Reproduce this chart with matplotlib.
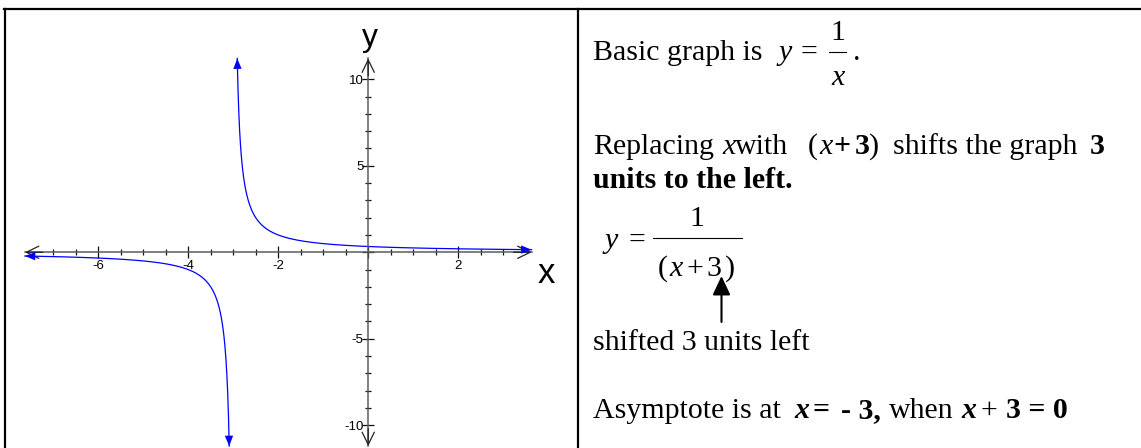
import numpy as np
import matplotlib
matplotlib.use("Agg")
import matplotlib.pyplot as plt
from matplotlib.lines import Line2D
from matplotlib.patches import FancyArrowPatch

plt.rcParams['axes.unicode_minus'] = False

# y = 1 / (x + shift), the shifted reciprocal graph
shift = 3
x_ends = [-7.63, 3.63]          # where the x axis (and the curve) stop
y_ends = [-11.2, 11.2]          # where the y axis (and the curve) stop
x_major = [-6, -4, -2, 0, 2]
x_major_labels = ['-6', '-4', '-2', '', '2']
y_major = [-10, -5, 0, 5, 10]
y_major_labels = ['-10', '-5', '', '5', '10']
x_minor = np.arange(-7, 3.01, 0.5)
y_minor = np.arange(-10, 10.01, 1)

W, H = 1141, 448
fig = plt.figure(figsize=(W / 100, H / 100), dpi=100)


def fx(px):
    return px / W


def fy(py):
    return 1 - py / H


# table lines
for x0, y0, x1, y1 in [(4, 9, W, 9), (5, 9, 5, H), (578, 9, 578, H)]:
    fig.add_artist(Line2D([fx(x0), fx(x1)], [fy(y0), fy(y1)], color='black', lw=1.6))

# ---- graph cell ----
ax = fig.add_axes([fx(6), 0, fx(577) - fx(6), fy(10)])
ax.set_xlim(-8.05, 4.64)
ax.set_ylim(-11.31, 14.0)
ax.patch.set_alpha(0)

axis_gray = '#5c5c5c'
for s in ['top', 'right']:
    ax.spines[s].set_visible(False)
ax.spines['left'].set_position('zero')
ax.spines['bottom'].set_position('zero')
ax.spines['bottom'].set_bounds(*x_ends)
ax.spines['left'].set_bounds(*y_ends)
for s in ['left', 'bottom']:
    ax.spines[s].set_color(axis_gray)
    ax.spines[s].set_linewidth(1.1)

ax.set_xticks(x_major, labels=x_major_labels)
ax.set_xticks(x_minor, minor=True)
ax.set_yticks(y_major, labels=y_major_labels)
ax.set_yticks(y_minor, minor=True)
ax.tick_params(which='major', direction='inout', length=8.6, width=0.9, color='#111111',
               labelsize=9.5, labelfontfamily='Liberation Sans')
ax.tick_params(which='minor', direction='inout', length=4.3, width=0.9, color='#111111')
ax.tick_params(axis='x', pad=1.5)
ax.tick_params(axis='y', pad=-1)

# open chevrons on the axis ends
chev = dict(arrowstyle='->,head_length=0.45,head_width=0.22', color='#222222', lw=0.9,
            shrinkA=0, shrinkB=0, mutation_scale=20)
ax.annotate('', xy=(x_ends[1], 0), xytext=(x_ends[1] - 0.4, 0), arrowprops=chev)
ax.annotate('', xy=(x_ends[0], 0), xytext=(x_ends[0] + 0.4, 0), arrowprops=chev)
ax.annotate('', xy=(0, y_ends[1]), xytext=(0, y_ends[1] - 1), arrowprops=chev)
ax.annotate('', xy=(0, y_ends[0]), xytext=(0, y_ends[0] + 1), arrowprops=chev)

ax.text(0.04, 11.91, 'y', fontsize=23, family='Liberation Sans', ha='center', va='baseline')
ax.text(3.96, -1.77, 'x', fontsize=25, family='Liberation Sans', ha='center', va='baseline')


def f(x):
    return 1 / (x + shift)


# the two branches, sampled by distance from the asymptote
near = 1 / y_ends[1]
d_right = np.geomspace(near, x_ends[1] + shift, 500)
d_left = np.geomspace(near, -(x_ends[0] + shift), 500)
ax.plot(-shift + d_right, f(-shift + d_right), color='blue', lw=0.9)
ax.plot(-shift - d_left, f(-shift - d_left), color='blue', lw=0.9)

head = dict(arrowstyle='-|>,head_length=0.75,head_width=0.3', color='blue', lw=0,
            shrinkA=0, shrinkB=0, mutation_scale=10)
ax.annotate('', xy=(x_ends[1], f(x_ends[1])), xytext=(x_ends[1] - 0.3, f(x_ends[1] - 0.3)), arrowprops=head)
ax.annotate('', xy=(x_ends[0], f(x_ends[0])), xytext=(x_ends[0] + 0.3, f(x_ends[0] + 0.3)), arrowprops=head)
ax.annotate('', xy=(-shift + near, y_ends[1]), xytext=(-shift + 1 / 10.4, 10.4), arrowprops=head)
ax.annotate('', xy=(-shift - near, y_ends[0]), xytext=(-shift - 1 / 10.4, -10.4), arrowprops=head)

# ---- explanation cell ----
serif = 'Liberation Serif'
fs = 21.5
reg = dict(family=serif, fontsize=fs)
ital = dict(family=serif, fontsize=fs, style='italic')
bold = dict(family=serif, fontsize=fs, weight='bold')
bital = dict(family=serif, fontsize=fs, weight='bold', style='italic')


def put(px, py, s, style, ha='left'):
    fig.text(fx(px), fy(py), s, ha=ha, va='baseline', **style)


def bar(x0, x1, py):
    fig.add_artist(Line2D([fx(x0), fx(x1)], [fy(py), fy(py)], color='black', lw=0.8))


# Basic graph is y = 1/x .
put(593, 60, 'Basic graph is', reg)
put(778.6, 60, 'y', ital)
put(809, 60, '=', reg, ha='center')
put(837.5, 40, '1', reg, ha='center')
bar(829, 846, 52)
put(837.5, 85, 'x', ital, ha='center')
put(853, 60, '.', reg)

# Replacing x with (x + 3) shifts the graph 3 units to the left.
for px, s, st in [(593, 'Replacing', reg), (722, 'x', ital), (734.5, 'with', reg),
                  (808, '(', reg), (819, 'x', ital), (833, '+', bold), (855, '3', bold),
                  (869, ')', reg), (893, 'shifts the graph', reg), (1090, '3', bold)]:
    put(px, 154, s, st)
put(593, 188, 'units to the left.', bold)

# y = 1/(x+3)
put(605, 248, 'y', ital)
put(636.5, 248, '=', reg, ha='center')
put(697, 226.5, '1', reg, ha='center')
bar(653, 742, 237.7)
for px, s, st in [(658, '(', reg), (669, 'x', ital), (695, '+', reg), (714, '3', reg), (725, ')', reg)]:
    put(px, 276, s, st, ha='center' if s in '+3' else 'left')

fig.add_artist(FancyArrowPatch((fx(721.5), fy(322)), (fx(721.5), fy(276)), transform=fig.transFigure,
                               arrowstyle='-|>,head_length=1.15,head_width=0.54', mutation_scale=10,
                               color='black', lw=1.5, shrinkA=0, shrinkB=0))
put(593, 350, 'shifted 3 units left', reg)

# Asymptote is at x = - 3, when x + 3 = 0
for px, s, st in [(593, 'Asymptote is at', reg), (794, 'x', bital), (812.5, '=', bold),
                  (841, '- 3,', bold), (889, 'when', reg), (961, 'x', bital), (981, '+', reg),
                  (1006, '3 = 0', bold)]:
    put(px, 418, s, st)

fig.savefig('out.png', dpi=100)
